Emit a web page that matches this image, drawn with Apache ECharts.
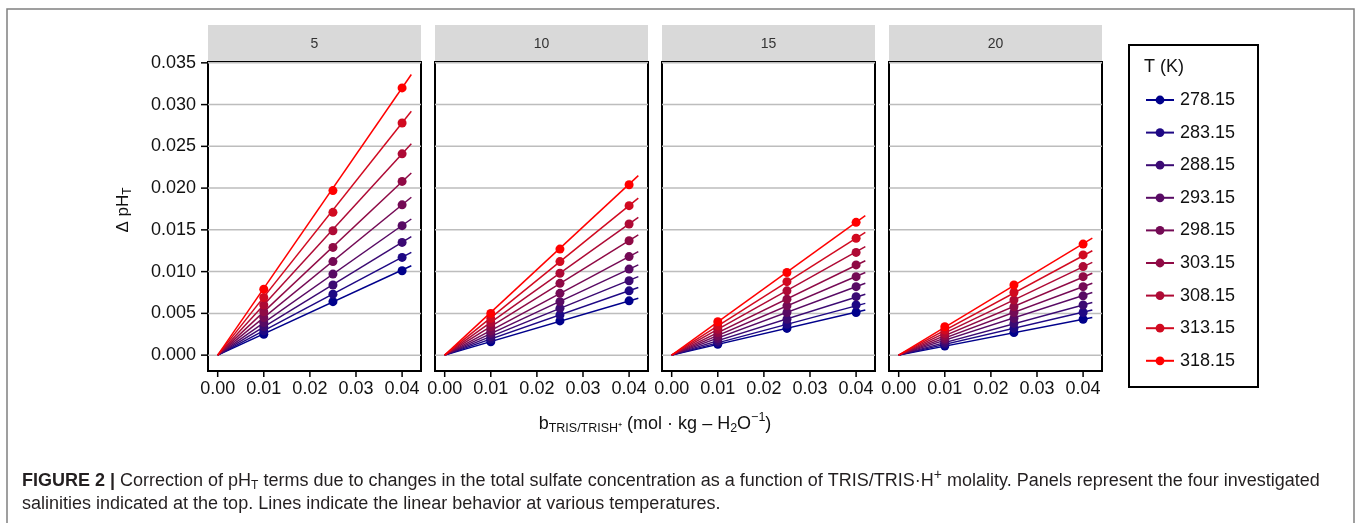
<!DOCTYPE html>
<html>
<head>
<meta charset="utf-8">
<script src="https://cdn.jsdelivr.net/npm/echarts@6/dist/echarts.min.js"></script>
<style>
  html, body { margin: 0; padding: 0; background: #fff; }
  #chart { width: 1357px; height: 523px; }
</style>
</head>
<body>
<div id="chart"></div>
<script>
// salinity panels and temperatures
var salinities = ['5', '10', '15', '20'];
var temps = ['278.15', '283.15', '288.15', '293.15', '298.15', '303.15', '308.15', '313.15', '318.15'];
var colors = ['#00008B', '#1E0884', '#3B0A73', '#580A64', '#740A55', '#8F0A45', '#AE0A35', '#D10A20', '#FF0000'];

// molality of the measured points, and where the fit lines stop
var xPoints = [0.01, 0.025, 0.04];
var fitX = [0, 0.042];
var xTicks = [0, 0.01, 0.02, 0.03, 0.04];
var yTicks = [0, 0.005, 0.010, 0.015, 0.020, 0.025, 0.030, 0.035];

// delta pH_T, one value per temperature (278.15 -> 318.15)
var s5_x010 = [0.0025, 0.0029, 0.0034, 0.0039, 0.0045, 0.0052, 0.0060, 0.0069, 0.0079];
var s5_x025 = [0.0064, 0.0073, 0.0084, 0.0097, 0.0112, 0.0129, 0.0149, 0.0171, 0.0197];
var s5_x040 = [0.0101, 0.0117, 0.0135, 0.0155, 0.0180, 0.0208, 0.0241, 0.0278, 0.0320];
var s5_fit = [0.0107, 0.0123, 0.0142, 0.0163, 0.0189, 0.0218, 0.0253, 0.0292, 0.0336];

var s10_x010 = [0.0016, 0.0019, 0.0022, 0.0026, 0.0029, 0.0034, 0.0039, 0.0044, 0.0050];
var s10_x025 = [0.0041, 0.0048, 0.0056, 0.0064, 0.0074, 0.0086, 0.0098, 0.0112, 0.0127];
var s10_x040 = [0.0065, 0.0077, 0.0089, 0.0103, 0.0118, 0.0137, 0.0157, 0.0179, 0.0204];
var s10_fit = [0.0068, 0.0081, 0.0094, 0.0108, 0.0124, 0.0144, 0.0165, 0.0188, 0.0215];

var s15_x010 = [0.0013, 0.0015, 0.0017, 0.0020, 0.0023, 0.0027, 0.0031, 0.0035, 0.0040];
var s15_x025 = [0.0032, 0.0037, 0.0043, 0.0051, 0.0059, 0.0067, 0.0077, 0.0088, 0.0099];
var s15_x040 = [0.0051, 0.0060, 0.0070, 0.0082, 0.0094, 0.0108, 0.0123, 0.0140, 0.0159];
var s15_fit = [0.0054, 0.0062, 0.0073, 0.0086, 0.0099, 0.0113, 0.0130, 0.0147, 0.0167];

var s20_x010 = [0.0011, 0.0013, 0.0015, 0.0018, 0.0020, 0.0023, 0.0026, 0.0030, 0.0034];
var s20_x025 = [0.0027, 0.0032, 0.0038, 0.0044, 0.0051, 0.0058, 0.0066, 0.0075, 0.0084];
var s20_x040 = [0.0043, 0.0051, 0.0060, 0.0071, 0.0082, 0.0094, 0.0106, 0.0120, 0.0133];
var s20_fit = [0.0045, 0.0054, 0.0063, 0.0075, 0.0086, 0.0098, 0.0111, 0.0125, 0.0140];

var panelData = [
  [s5_x010, s5_x025, s5_x040, s5_fit],
  [s10_x010, s10_x025, s10_x040, s10_fit],
  [s15_x010, s15_x025, s15_x040, s15_fit],
  [s20_x010, s20_x025, s20_x040, s20_fit]
];

var FONT = 'Liberation Sans, Arial, sans-serif';
var panelLeft = [208, 435, 662, 889];
var panelW = 213;
var panelTop = 62;
var panelH = 309;
var xMin = -0.0021, xMax = 0.0441;
var yMin = -0.0019, yMax = 0.0351;

var chart = echarts.init(document.getElementById('chart'));

var grids = [], xAxes = [], yAxes = [], series = [], graphics = [];

graphics.push({
  type: 'rect', shape: { x: 7, y: 9, width: 1347, height: 540 },
  style: { fill: 'none', stroke: '#808080', lineWidth: 1.5 }, silent: true
});

for (var p = 0; p < salinities.length; p++) {
  grids.push({
    left: panelLeft[p], top: panelTop, width: panelW, height: panelH,
    show: true, backgroundColor: '#fff', borderColor: '#000', borderWidth: 2
  });
  xAxes.push({
    gridIndex: p, type: 'value', min: xMin, max: xMax,
    axisLine: { show: false, onZero: false },
    splitLine: { show: false },
    axisTick: { show: false },
    axisLabel: {
      customValues: xTicks, margin: 9, fontSize: 18, color: '#111', fontFamily: FONT,
      formatter: function (v) { return v.toFixed(2); }
    }
  });
  yAxes.push({
    gridIndex: p, type: 'value', min: yMin, max: yMax,
    axisLine: { show: false, onZero: false },
    splitLine: { show: false },
    axisTick: { show: false },
    axisLabel: {
      show: p === 0, customValues: yTicks, margin: 12, fontSize: 18, color: '#111', fontFamily: FONT,
      formatter: function (v) { return v.toFixed(3); }
    }
  });

  // horizontal grid lines, one thin series per tick value
  for (var g = 0; g < yTicks.length; g++) {
    series.push({
      type: 'line', xAxisIndex: p, yAxisIndex: p, z: 1, silent: true,
      showSymbol: false, symbol: 'none',
      lineStyle: { color: '#bdbdbd', width: 1.5 },
      data: [[xMin, yTicks[g]], [xMax, yTicks[g]]]
    });
  }

  var d = panelData[p];
  for (var t = 0; t < temps.length; t++) {
    series.push({
      name: temps[t], type: 'line', xAxisIndex: p, yAxisIndex: p, z: 10,
      symbol: 'circle', showSymbol: false, silent: true,
      color: colors[t], lineStyle: { width: 1.5, color: colors[t] },
      data: [[fitX[0], 0], [fitX[1], d[3][t]]]
    });
    series.push({
      name: temps[t], type: 'scatter', xAxisIndex: p, yAxisIndex: p, z: 11,
      symbolSize: 9, silent: true, itemStyle: { color: colors[t], opacity: 1 },
      data: [[xPoints[0], d[0][t]], [xPoints[1], d[1][t]], [xPoints[2], d[2][t]]]
    });
  }

  // facet strip
  graphics.push({
    type: 'rect', shape: { x: panelLeft[p], y: 25, width: panelW, height: 36 },
    style: { fill: '#d9d9d9' }, silent: true
  });
  graphics.push({
    type: 'text', x: panelLeft[p] + panelW / 2, y: 44,
    style: { text: salinities[p], fontSize: 14, fontFamily: FONT, fill: '#333', align: 'center', verticalAlign: 'middle' }
  });
}

// axis titles
graphics.push({
  type: 'text', x: 123, y: 210, rotation: Math.PI / 2,
  style: {
    text: '{a|Δ pH}{s|T}', align: 'center', verticalAlign: 'middle', fill: '#111',
    rich: {
      a: { fontSize: 17, fontFamily: FONT, fill: '#111' },
      s: { fontSize: 12, fontFamily: FONT, fill: '#111', padding: [9, 0, 0, 0] }
    }
  }
});
graphics.push({
  type: 'text', x: 655, y: 424,
  style: {
    text: '{a|b}{s|TRIS/TRISH⁺}{a| (mol · kg – H}{s2|2}{a|O}{p|−1}{a|)}',
    align: 'center', verticalAlign: 'middle', fill: '#111',
    rich: {
      a: { fontSize: 18, fontFamily: FONT, fill: '#111' },
      s: { fontSize: 12.5, fontFamily: FONT, fill: '#111', padding: [9, 0, 0, 0] },
      s2: { fontSize: 12.5, fontFamily: FONT, fill: '#111', padding: [9, 0, 0, 0] },
      p: { fontSize: 12.5, fontFamily: FONT, fill: '#111', padding: [0, 0, 12, 0] }
    }
  }
});

// legend frame and title
graphics.push({
  type: 'rect', shape: { x: 1129, y: 45, width: 129, height: 342 },
  style: { fill: 'none', stroke: '#000', lineWidth: 2 }, silent: true
});
graphics.push({
  type: 'text', x: 1144, y: 67,
  style: { text: 'T (K)', fontSize: 18, fontFamily: FONT, fill: '#111', verticalAlign: 'middle' }
});

// caption
graphics.push({
  type: 'text', x: 22, y: 481,
  style: {
    text: '{b|FIGURE 2 | }{n|Correction of pH}{s|T}{n| terms due to changes in the total sulfate concentration as a function of TRIS/TRIS·H}{p|+}{n| molality. Panels represent the four investigated}',
    verticalAlign: 'middle', fill: '#231f20',
    rich: {
      b: { fontSize: 18, fontWeight: 'bold', fontFamily: FONT, fill: '#231f20' },
      n: { fontSize: 18, fontFamily: FONT, fill: '#231f20' },
      s: { fontSize: 12, fontFamily: FONT, fill: '#231f20', padding: [9, 0, 0, 0] },
      p: { fontSize: 14, fontFamily: FONT, fill: '#231f20', padding: [0, 0, 11, 0] }
    }
  }
});
graphics.push({
  type: 'text', x: 22, y: 504,
  style: {
    text: 'salinities indicated at the top. Lines indicate the linear behavior at various temperatures.',
    fontSize: 18, fontFamily: FONT, fill: '#231f20', verticalAlign: 'middle'
  }
});

var option = {
  animation: false,
  backgroundColor: '#fff',
  grid: grids,
  xAxis: xAxes,
  yAxis: yAxes,
  legend: {
    data: temps,
    orient: 'vertical',
    left: 1145, top: 91,
    padding: 0,
    itemWidth: 28, itemHeight: 11, itemGap: 14.6,
    selectedMode: false,
    textStyle: { fontSize: 18, fontFamily: FONT, color: '#111', padding: [0, 0, 0, 1] }
  },
  graphic: graphics,
  series: series
};

chart.setOption(option);

// tick marks outside the frames, positioned through each panel's scales
for (var q = 0; q < salinities.length; q++) {
  xTicks.forEach(function (v) {
    var pt = chart.convertToPixel({ gridIndex: q }, [v, yMin]);
    graphics.push({
      type: 'line', z: 50, silent: true,
      shape: { x1: pt[0], y1: pt[1] + 1, x2: pt[0], y2: pt[1] + 6 },
      style: { stroke: '#000', lineWidth: 1.5 }
    });
  });
}
yTicks.forEach(function (v) {
  var pt = chart.convertToPixel({ gridIndex: 0 }, [xMin, v]);
  graphics.push({
    type: 'line', z: 50, silent: true,
    shape: { x1: pt[0] - 1, y1: pt[1], x2: pt[0] - 7, y2: pt[1] },
    style: { stroke: '#000', lineWidth: 1.5 }
  });
});
chart.setOption({ graphic: graphics });
</script>
</body>
</html>
